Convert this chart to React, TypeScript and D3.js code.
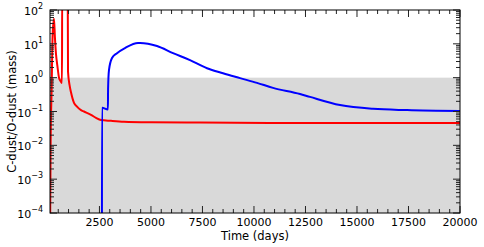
import React from 'react';
import * as d3 from 'd3';

// C-dust / O-dust mass ratio vs time
const redTimes = [100, 130, 180, 230, 294, 340, 391, 460, 537, 610, 682, 690, 960, 975, 1050, 1119, 1265, 1410, 1605, 1750, 2090, 2333, 2576, 3061, 3692, 5000, 7381, 12000, 20000];
const redRatio = [1e-5, 0.01, 0.5, 20, 55, 15, 5, 2.2, 1.0, 0.8, 0.7, 300, 300, 1.5, 0.6, 0.37, 0.18, 0.14, 0.11, 0.1, 0.08, 0.065, 0.056, 0.053, 0.05, 0.048, 0.047, 0.046, 0.046];

const blueTimes = [2620, 2625, 2910, 2920, 2964, 3110, 3352, 3740, 4372, 4469, 5294, 6070, 6896, 7721, 8498, 9323, 10148, 10924, 12235, 12720, 14177, 15778, 17429, 20000];
const blueRatio = [1e-5, 0.13, 0.115, 0.5, 1.7, 3.8, 5.3, 7.5, 10.6, 10.6, 8.6, 5.3, 3.3, 1.9, 1.35, 0.97, 0.7, 0.5, 0.33, 0.27, 0.155, 0.12, 0.11, 0.103];

const xTicks = [2500, 5000, 7500, 10000, 12500, 15000, 17500, 20000];
const yExponents = [-4, -3, -2, -1, 0, 1, 2];

const W = 484;
const H = 247;
const margin = { left: 50, right: 24, top: 10, bottom: 34 };

const App: React.FC = () => {
  const x = d3.scaleLinear().domain([100, 20000]).range([margin.left, W - margin.right]);
  const y = d3.scaleLog().domain([1e-4, 1e2]).range([H - margin.bottom, margin.top]);
  const x0 = margin.left;
  const x1 = W - margin.right;
  const y0 = H - margin.bottom;
  const y1 = margin.top;

  const line = d3.line<[number, number]>()
    .x(d => x(d[0]))
    .y(d => y(d[1]))
    .curve(d3.curveMonotoneX);

  const red = line(redTimes.map((t, i) => [t, redRatio[i]] as [number, number])) || '';
  const blue = line(blueTimes.map((t, i) => [t, blueRatio[i]] as [number, number])) || '';

  const xMinor = d3.range(500, 20000, 500).filter(v => xTicks.indexOf(v) < 0);
  const yMinor: number[] = [];
  for (let e = -4; e < 2; e++) {
    for (let k = 2; k <= 9; k++) yMinor.push(k * Math.pow(10, e));
  }

  const tickColor = '#222';
  const font = 'DejaVu Sans, sans-serif';

  return (
    <svg width={W} height={H} style={{ position: 'absolute', left: 0, top: 0 }} fontFamily={font}>
      <defs>
        <clipPath id="plot">
          <rect x={x0} y={y1} width={x1 - x0} height={y0 - y1} />
        </clipPath>
      </defs>
      <rect x={0} y={0} width={W} height={H} fill="#fff" />
      {/* shaded region below ratio 1 */}
      <rect x={x0} y={y(1)} width={x1 - x0} height={y0 - y(1)} fill="#d9d9d9" />

      <g clipPath="url(#plot)">
        <path d={red} fill="none" stroke="#ff0000" strokeWidth={2} strokeLinejoin="round" />
        <path d={blue} fill="none" stroke="#0000ff" strokeWidth={2} strokeLinejoin="round" />
      </g>

      {/* x ticks, inward on bottom and top */}
      {xTicks.map(v => (
        <g key={'xt' + v}>
          <line x1={x(v)} x2={x(v)} y1={y0} y2={y0 - 7} stroke={tickColor} />
          <line x1={x(v)} x2={x(v)} y1={y1} y2={y1 + 7} stroke={tickColor} />
          <text x={x(v)} y={y0 + 13} fontSize={11} textAnchor="middle" fill="#000">{v}</text>
        </g>
      ))}
      {xMinor.map(v => (
        <g key={'xm' + v}>
          <line x1={x(v)} x2={x(v)} y1={y0} y2={y0 - 4} stroke={tickColor} />
          <line x1={x(v)} x2={x(v)} y1={y1} y2={y1 + 4} stroke={tickColor} />
        </g>
      ))}

      {/* y ticks, inward on left and right */}
      {yExponents.map(e => {
        const v = Math.pow(10, e);
        return (
          <g key={'yt' + e}>
            <line x1={x0} x2={x0 + 7} y1={y(v)} y2={y(v)} stroke={tickColor} />
            <line x1={x1} x2={x1 - 7} y1={y(v)} y2={y(v)} stroke={tickColor} />
            <text x={43} y={y(v) + 5} fontSize={11} textAnchor="end" fill="#000">
              10<tspan dy={-6} fontSize={8}>{e < 0 ? '\u2212' + Math.abs(e) : String(e)}</tspan>
            </text>
          </g>
        );
      })}
      {yMinor.map((v, i) => (
        <g key={'ym' + i}>
          <line x1={x0} x2={x0 + 4} y1={y(v)} y2={y(v)} stroke={tickColor} />
          <line x1={x1} x2={x1 - 4} y1={y(v)} y2={y(v)} stroke={tickColor} />
        </g>
      ))}

      <rect x={x0} y={y1} width={x1 - x0} height={y0 - y1} fill="none" stroke="#000" strokeWidth={1} />

      <text x={(x0 + x1) / 2} y={240} fontSize={11.5} textAnchor="middle" fill="#000">Time (days)</text>
      <text transform={`translate(16, ${(y0 + y1) / 2}) rotate(-90)`} fontSize={11.5} textAnchor="middle" fill="#000">C-dust/O-dust (mass)</text>
    </svg>
  );
};

export default App;
